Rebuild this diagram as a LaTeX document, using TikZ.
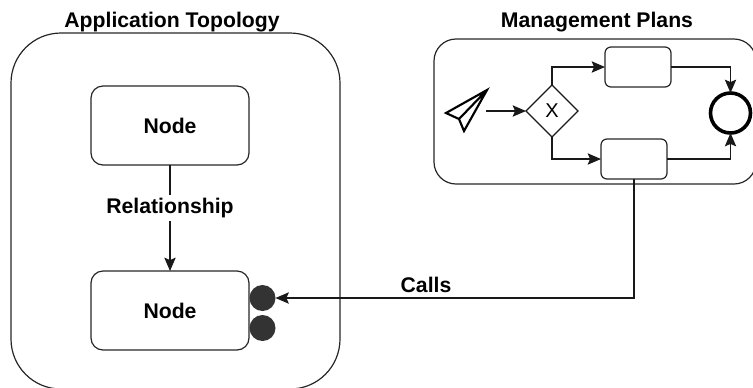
\documentclass[tikz,border=0pt]{standalone}
\usepackage{fontspec}
\setmainfont{Liberation Sans}
\usetikzlibrary{arrows.meta,shapes.geometric,calc}
\tikzset{
  pxbox/.style n args={3}{draw=black!85,line width=0.9pt,rounded corners=#3*0.75pt,minimum width=#1*0.75pt,minimum height=#2*0.75pt,inner sep=0pt,outer sep=0pt,fill=none},
  lbl/.style={font=\fontsize{15.9pt}{18pt}\selectfont\bfseries,inner sep=1pt},
  flow/.style={draw=black!90,line width=0.9pt,-{Stealth[inset=1.8pt,length=10pt,width=8.5pt]}},
  port/.style={circle,fill=black!80,draw=none,minimum size=19.5pt,inner sep=0pt,outer sep=0pt},
}
\begin{document}
\begin{tikzpicture}[x=0.75pt,y=-0.75pt]
\useasboundingbox (0,0) rectangle (753,387);
\clip (0,0) rectangle (753,387);
% containers
\node[pxbox={329}{356}{50}] (topo) at (175.5,211) {};
\node[pxbox={322}{145}{22}] (plans) at (595,111.5) {};
% titles
\node[lbl] (t1) at (172,22) {Application Topology};
\node[lbl] (t2) at (597,22) {Management Plans};
% topology nodes
\node[pxbox={158}{79}{12},lbl,line width=0.9pt,text depth=0pt,inner sep=0pt] (n1) at (170,125.5) {\raisebox{-1pt}{Node}};
\node[pxbox={158}{79}{12},lbl,line width=0.9pt,text depth=0pt,inner sep=0pt] (n2) at (170,310.5) {\raisebox{-1pt}{Node}};
\node[port] (p1) at (262.5,298) {};
\node[port] (p2) at (262.5,328) {};
\draw[flow] (n1.south) -- (n2.north);
\node[lbl,fill=white,inner xsep=1pt,inner ysep=2pt] (rel) at (170,208) {Relationship};
% plan elements
\node[draw=black!90,line width=0.9pt,diamond,aspect=1,minimum size=52*0.75pt,inner sep=0pt,outer sep=0pt,font=\fontsize{15pt}{16pt}\selectfont] (gw) at (552,111) {X};
\node[pxbox={66}{40}{6}] (task1) at (638,67) {};
\node[pxbox={66}{40}{6}] (task2) at (634,159) {};
\node[circle,draw=black,line width=2.7pt,minimum size=40*0.75pt,inner sep=0pt,outer sep=0pt] (end) at (730.5,113) {};
% paper plane
\draw[black,line width=1.6pt,line join=miter] (487,90) -- (446,113) -- (459,119) -- (464,131) -- cycle (459,119) -- (487,90);
\coordinate (start) at (486,111);
\draw[flow] (start) -- (gw.west);
\draw[flow] (gw.north) |- (task1.west);
\draw[flow] (gw.south) |- (task2.west);
\draw[flow] (task1.east) -| (end.north);
\draw[flow] (task2.east) -| (end.south);
% call
\draw[flow] (task2.south) |- (p1.east);
\node[lbl] (calls) at (426,285) {Calls};
\end{tikzpicture}
\end{document}
